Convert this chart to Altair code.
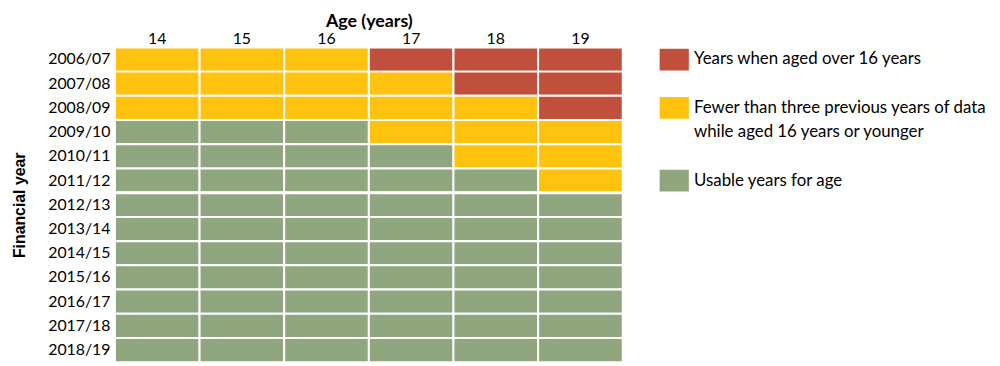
import altair as alt
import pandas as pd

ages = ["14", "15", "16", "17", "18", "19"]
years = ["2006/07", "2007/08", "2008/09", "2009/10", "2010/11", "2011/12", "2012/13",
         "2013/14", "2014/15", "2015/16", "2016/17", "2017/18", "2018/19"]
# R = aged over 16, Y = fewer than three previous years, G = usable
codes = ["YYYRRR", "YYYYRR", "YYYYYR", "GGGYYY", "GGGGYY", "GGGGGY", "GGGGGG",
         "GGGGGG", "GGGGGG", "GGGGGG", "GGGGGG", "GGGGGG", "GGGGGG"]
categories = ["Years when aged over 16 years",
              "Fewer than three previous years of data while aged 16 years or younger",
              "Usable years for age"]
legend_lines = [["Years when aged over 16 years"],
                ["Fewer than three previous years of data", "while aged 16 years or younger"],
                ["Usable years for age"]]
colors = ["#C0503C", "#FFC20E", "#8FA67F"]
code_map = {"R": 0, "Y": 1, "G": 2}
separator_year = ["2012/13"]

rows = []
for yr, row in zip(years, codes):
    for age, c in zip(ages, row):
        rows.append({"year": yr, "age": age, "category": categories[code_map[c]]})
df = pd.DataFrame(rows)

FONT = "Lato"
color_scale = alt.Scale(domain=categories, range=colors)

heat = alt.Chart(df).mark_rect(stroke="white", strokeWidth=2).encode(
    x=alt.X("age:O", sort=ages,
            axis=alt.Axis(orient="top", title="Age (years)", labelAngle=0,
                          domain=False, ticks=False, labelPadding=1, titlePadding=0,
                          titleFont=FONT, titleFontSize=18)),
    y=alt.Y("year:O", sort=years,
            axis=alt.Axis(title="Financial year", domain=False, ticks=False,
                          labelPadding=5, titlePadding=20,
                          titleFont="Liberation Sans", titleFontSize=16)),
    color=alt.Color("category:N", scale=color_scale, legend=None),
)
sep = alt.Chart(pd.DataFrame({"year": separator_year})).mark_rule(
    color="white", strokeWidth=3).encode(
    y=alt.Y("year:O", sort=years, bandPosition=0)
)
main = alt.layer(heat, sep).properties(width=513, height=318)

# legend built from data
sq_rows, txt_rows = [], []
slot = 0
for cat, lines in zip(categories, legend_lines):
    sq_rows.append({"slot": slot, "category": cat})
    for ln in lines:
        txt_rows.append({"slot": slot, "text": ln})
        slot += 1
    slot += 1
yscale = alt.Scale(domain=list(range(len(years))), paddingInner=0, paddingOuter=0)
leg_sq = alt.Chart(pd.DataFrame(sq_rows)).mark_rect(stroke="white", strokeWidth=2.5).encode(
    x=alt.value(0), x2=alt.value(32),
    y=alt.Y("slot:O", scale=yscale, axis=None),
    color=alt.Color("category:N", scale=color_scale, legend=None),
)
leg_txt = alt.Chart(pd.DataFrame(txt_rows)).mark_text(
    align="left", baseline="middle", fontSize=17, font=FONT, color="black").encode(
    x=alt.value(36),
    y=alt.Y("slot:O", scale=yscale, axis=None),
    text="text:N",
)
legend = alt.layer(leg_sq, leg_txt).properties(width=300, height=318)

chart = alt.hconcat(main, legend, spacing=32).resolve_scale(color="shared").properties(
    padding={"left": 4, "top": 3, "right": 5, "bottom": 0}
).configure_view(
    stroke=None
).configure_axis(
    labelFont=FONT, labelFontSize=16,
    titleFontWeight="bold", labelColor="black", titleColor="black"
)

chart.save("out.html", embed_options={"renderer": "svg", "actions": False})
